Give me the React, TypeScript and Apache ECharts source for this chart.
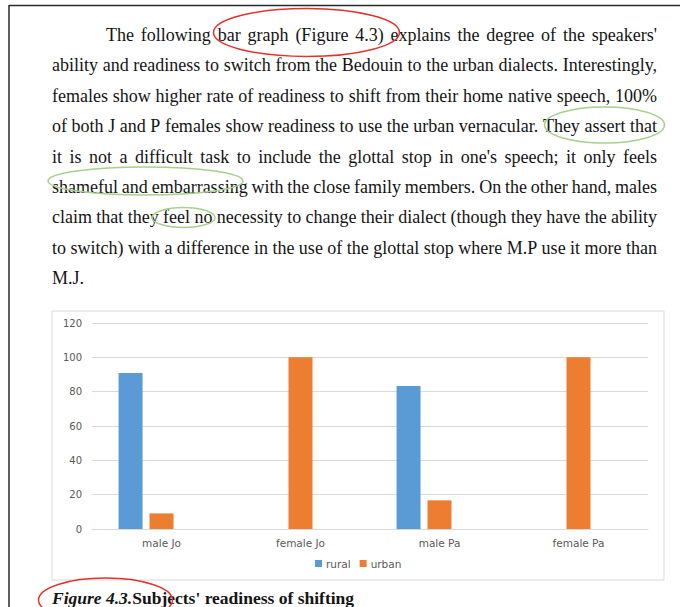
import React, { useEffect, useRef } from 'react';
import * as echarts from 'echarts';

// ---- chart data ----
const categories = ['male Jo', 'female Jo', 'male Pa', 'female Pa'];
const rural = [90.9, 0, 83.3, 0];
const urban = [9.1, 100, 16.7, 100];
// the source chart keeps an empty third series slot next to "urban"
const emptySlot = [null, null, null, null];
const yMin = 0;
const yMax = 120;
const yStep = 20;

// ---- page text ----
const paragraphLines = [
  "The following bar graph (Figure 4.3) explains the degree of the speakers'",
  'ability and readiness to switch from the Bedouin to the urban dialects. Interestingly,',
  'females show higher rate of readiness to shift from their home native speech, 100%',
  'of both J and P females show readiness to use the urban vernacular. They assert that',
  "it is not a difficult task to include the glottal stop in one's speech; it only feels",
  'shameful and embarrassing with the close family members. On the other hand, males',
  'claim that they feel no necessity to change their dialect (though they have the ability',
  'to switch) with a difference in the use of the glottal stop where M.P use it more than',
  'M.J.',
];
const captionItalic = 'Figure 4.3.';
const captionRest = "Subjects' readiness of shifting";

const BODY_FONT = 'Liberation Serif';
const TEXT_LEFT = 52;
const TEXT_RIGHT = 657;
const FIRST_INDENT = 106;
const LINE_Y0 = 35;
const LINE_STEP = 30.4;
const INK = '#141414';

function buildParagraph(): any[] {
  const canvas = document.createElement('canvas');
  const ctx = canvas.getContext('2d') as CanvasRenderingContext2D;
  const n = paragraphLines.length;
  // find the size at which the tightest justified line has a word gap of ~3.6px
  const base = 16;
  ctx.font = `${base}px "${BODY_FONT}"`;
  let size = 18;
  paragraphLines.slice(0, n - 1).forEach((line, i) => {
    const left = i === 0 ? FIRST_INDENT : TEXT_LEFT;
    const words = line.split(' ');
    const total = words.reduce((a, w) => a + ctx.measureText(w).width, 0);
    const avail = TEXT_RIGHT - left - (words.length - 1) * 3.6;
    size = Math.min(size, (base * avail) / total);
  });
  size = Math.max(15, Math.min(18, size));
  ctx.font = `${size}px "${BODY_FONT}"`;
  const els: any[] = [];
  paragraphLines.forEach((line, i) => {
    const y = LINE_Y0 + i * LINE_STEP;
    const left = i === 0 ? FIRST_INDENT : TEXT_LEFT;
    const words = line.split(' ');
    const widths = words.map((w) => ctx.measureText(w).width);
    const total = widths.reduce((a, b) => a + b, 0);
    const justify = i < n - 1 && words.length > 1;
    const gap = justify ? (TEXT_RIGHT - left - total) / (words.length - 1) : ctx.measureText(' ').width;
    let x = left;
    words.forEach((w, j) => {
      els.push({
        type: 'text',
        x,
        y,
        z: 10,
        style: {
          text: w,
          fontFamily: BODY_FONT,
          fontSize: size,
          fill: INK,
          align: 'left',
          verticalAlign: 'middle',
        },
      });
      x += widths[j] + gap;
    });
  });
  return els;
}

export default function App() {
  const ref = useRef<HTMLDivElement>(null);

  useEffect(() => {
    if (!ref.current) return;
    const chart = echarts.init(ref.current, undefined, { renderer: 'svg' });
    const red = '#E5312B';
    const green = '#A8D08D';
    const labelColor = '#595959';
    const grid = '#D9D9D9';

    const graphics: any[] = [
      // page frame
      { type: 'line', z: 5, shape: { x1: 9, y1: 5.5, x2: 680, y2: 5.5 }, style: { stroke: '#2a2a2a', lineWidth: 1.5 } },
      { type: 'line', z: 5, shape: { x1: 9, y1: 5, x2: 9, y2: 607 }, style: { stroke: '#2a2a2a', lineWidth: 1.5 } },
      // chart box
      { type: 'rect', z: -1, shape: { x: 52, y: 311, width: 612, height: 269 }, style: { fill: 'none', stroke: grid, lineWidth: 1 } },
      ...buildParagraph(),
      {
        type: 'text',
        x: 52,
        y: 598,
        z: 10,
        style: {
          text: `{i|${captionItalic}}{b|${captionRest}}`,
          verticalAlign: 'middle',
          rich: {
            i: { fontFamily: BODY_FONT, fontSize: 17.5, fontWeight: 'bold', fontStyle: 'italic', fill: INK, color: INK },
            b: { fontFamily: BODY_FONT, fontSize: 17.5, fontWeight: 'bold', fill: INK, color: INK },
          },
        },
      },
      // hand-drawn marks
      { type: 'ellipse', z: 20, shape: { cx: 306.5, cy: 32.5, rx: 93, ry: 24 }, style: { fill: 'none', stroke: red, lineWidth: 1.5 } },
      { type: 'ellipse', z: 20, shape: { cx: 604.5, cy: 125, rx: 60, ry: 18 }, style: { fill: 'none', stroke: green, lineWidth: 1.5 } },
      { type: 'ellipse', z: 20, shape: { cx: 145.5, cy: 181, rx: 97.5, ry: 14 }, style: { fill: 'none', stroke: green, lineWidth: 1.5 } },
      { type: 'ellipse', z: 20, shape: { cx: 183.5, cy: 217.5, rx: 31.5, ry: 10 }, style: { fill: 'none', stroke: green, lineWidth: 1.5 } },
      { type: 'ellipse', z: 20, shape: { cx: 105.5, cy: 600, rx: 67, ry: 22 }, style: { fill: 'none', stroke: red, lineWidth: 1.5 } },
    ];

    const barCommon = { type: 'bar', barWidth: 24, barGap: '29%', barCategoryGap: '38%' };

    chart.setOption({
      animation: false,
      backgroundColor: '#ffffff',
      grid: { left: 92, right: 32, top: 323, bottom: 78, containLabel: false },
      legend: {
        data: ['rural', 'urban'],
        left: 315,
        top: 558,
        padding: 0,
        itemWidth: 7,
        itemHeight: 7,
        itemGap: 9,
        icon: 'rect',
        textStyle: { color: labelColor, fontSize: 10.5, fontFamily: 'DejaVu Sans', padding: [0, 0, 0, -1] },
      },
      xAxis: {
        type: 'category',
        data: categories,
        axisLine: { show: true, lineStyle: { color: grid, width: 1 } },
        axisTick: { show: false },
        axisLabel: { color: labelColor, fontSize: 10.5, fontFamily: 'DejaVu Sans', margin: 8 },
      },
      yAxis: {
        type: 'value',
        min: yMin,
        max: yMax,
        interval: yStep,
        axisLine: { show: false },
        axisTick: { show: false },
        splitLine: { lineStyle: { color: grid, width: 1 } },
        axisLabel: { color: labelColor, fontSize: 10, fontFamily: 'DejaVu Sans', margin: 10 },
      },
      series: [
        { ...barCommon, name: 'rural', data: rural, itemStyle: { color: '#5B9BD5' } },
        { ...barCommon, name: 'urban', data: urban, itemStyle: { color: '#ED7D31' } },
        { ...barCommon, name: 'empty', data: emptySlot, itemStyle: { color: '#A5A5A5' } },
      ],
      graphic: { elements: graphics },
    });
    return () => chart.dispose();
  }, []);

  return (
    <div
      ref={ref}
      style={{ position: 'absolute', left: 0, top: 0, width: 680, height: 607, background: '#fff' }}
    />
  );
}
